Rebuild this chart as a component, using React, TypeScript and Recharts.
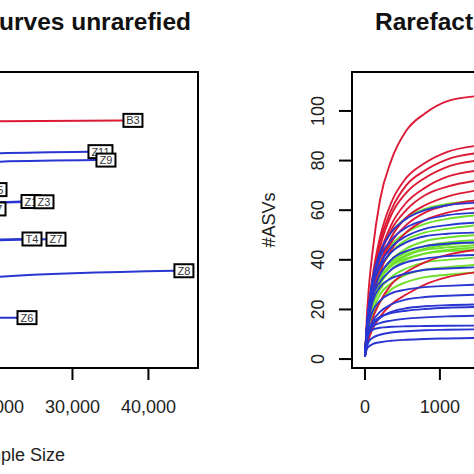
import React from "react";
import { LineChart, Line, XAxis, YAxis, ReferenceArea } from "recharts";

const FONT = "'Liberation Sans', Arial, sans-serif";
const RED = "#DC1A36";
const GREEN = "#6EE02A";
const BLUE = "#2A36D2";

// shared y range (#ASVs)
const Y_DOMAIN = [-3.6, 115.7];

// left panel: unrarefied curves (only the right part is in view)
const LEFT_X_DOMAIN = [-1789, 46526];
const LEFT_TICKS = [0, 10000, 20000, 30000, 40000];
const LEFT_STEPS = [0, 2000, 6000, 12000, 20000];
const LEFT_NAMES = ["B3", "Z11", "Z9", "Z5", "T7", "Z1", "Z3", "T4", "Z7", "Z8", "Z6"];
const LEFT_COLORS = [RED, BLUE, BLUE, BLUE, BLUE, BLUE, BLUE, BLUE, BLUE, BLUE, BLUE];
const LEFT_DEPTHS = [36711, 32105, 33158, 18816, 18684, 23289, 25000, 23421, 26579, 43421, 22763];
const LEFT_TOTALS = [96.2, 83.6, 80.2, 68.3, 60.5, 63.5, 63.4, 48.4, 48.3, 35.6, 16.7];
const LEFT_CURVES = [
  [1, 62, 84, 92, 95.8],
  [1, 55, 73, 80, 82.9],
  [1, 52, 70, 77, 79.5],
  [1, 48, 62, 66.5],
  [1, 42, 55, 59],
  [1, 45, 58, 62, 63.2],
  [1, 44, 57, 61.5, 63],
  [1, 36, 44, 47, 48.1],
  [1, 35, 43, 46.5, 47.8],
  [1, 20, 27, 31, 33.1],
  [1, 13, 15.5, 16.3, 16.6],
];

// right panel: rarefied curves
const RIGHT_X_DOMAIN = [-173, 4498];
const RIGHT_X_TICKS = [0, 1000, 2000, 3000, 4000];
const RIGHT_Y_TICKS = [0, 20, 40, 60, 80, 100];
const RIGHT_STEPS = [0, 25, 50, 100, 200, 350, 550, 800, 1100, 1500];
const GREEN_CURVES = [
  [1, 13, 21, 32, 43, 51, 57, 60.5, 62.5, 64],
  [1, 12, 19, 29, 39, 46, 51, 54.5, 56.5, 58],
  [1, 11, 18, 27, 36, 43, 48, 51, 52.5, 54],
  [1, 11, 17, 26, 34, 40, 44.5, 47.5, 49, 50],
  [1, 12, 18, 26, 34, 39, 43, 45.5, 47, 48],
  [1, 10, 16, 24, 32, 38, 42, 44.5, 46, 47],
  [1, 11, 17, 25, 32, 37.5, 41.5, 44, 45, 46],
  [1, 10, 15, 23, 30, 36, 40, 42.5, 44, 45],
  [1, 9, 14, 21, 28, 33, 36.5, 39, 40, 41],
  [1, 8, 13, 19, 26, 30.5, 34, 36, 37, 38],
  [1, 7, 11, 17, 23, 28, 31, 33, 34, 35],
  [1, 12, 18, 26, 33, 37.5, 40.5, 42.5, 43.5, 44],
];
const RED_CURVES = [
  [1, 17, 28, 43, 64, 80, 92, 99, 104, 106],
  [1, 13, 21, 33, 49, 63, 73, 79, 83.5, 86],
  [1, 12, 20, 31, 47, 60, 70, 76, 80.5, 83],
  [1, 12, 19, 30, 45, 58, 67, 73, 77.5, 80],
  [1, 11, 18, 28, 42, 54, 63, 69, 73.5, 76],
  [1, 11, 18, 28, 41, 52, 60, 66, 69.5, 72],
  [1, 10, 17, 26, 38, 49, 57, 62, 65.5, 68],
  [1, 11, 18, 27, 38, 47, 54, 59, 62, 64],
  [1, 10, 16, 24, 35, 44, 51, 56, 59, 61],
  [1, 6, 10, 16, 23, 30, 35, 39, 42, 44],
  [1, 5, 8, 12, 17, 22, 26, 30, 33, 35],
];
const BLUE_CURVES = [
  [1, 13, 21, 32, 43, 51, 56.5, 60, 62, 63],
  [1, 13, 21, 31, 41, 48, 53, 56, 58, 59],
  [1, 12, 19, 29, 38, 45, 49.5, 52.5, 54, 55],
  [1, 13, 20, 29, 37, 43, 47, 49.5, 50.5, 51],
  [1, 12, 18, 26, 34, 40, 43.5, 45.5, 46.5, 47],
  [1, 11, 17, 25, 31, 36, 39, 40.5, 41.5, 42],
  [1, 10, 16, 23, 29, 32.5, 34.5, 36, 36.5, 37],
  [1, 9, 14, 19, 23.5, 26.5, 28, 29, 29.5, 30],
  [1, 7, 11, 15, 19, 22, 24, 25, 25.5, 26],
  [1, 7, 10, 13.5, 16.5, 19, 20.5, 21.3, 21.7, 22],
  [1, 9, 12, 14.5, 17, 18.5, 19.5, 20.2, 20.7, 21],
  [1, 8, 11, 13, 14.5, 15.5, 16.3, 16.8, 17.2, 17.5],
  [1, 8, 10.5, 11.8, 12.6, 13, 13.2, 13.3, 13.4, 13.5],
  [1, 5, 7, 8.5, 9.8, 10.7, 11.2, 11.6, 11.8, 12],
  [1, 4, 5, 6, 6.8, 7.4, 7.8, 8.1, 8.3, 8.5],
];

const leftSeries = LEFT_NAMES.map((name, i) => {
  const pts = LEFT_CURVES[i].map((v, j) => ({ x: LEFT_STEPS[j], y: v }));
  pts.push({ x: LEFT_DEPTHS[i], y: LEFT_TOTALS[i] });
  return { name, color: LEFT_COLORS[i], pts };
});

const rightSeries = [
  ...GREEN_CURVES.map((c) => ({ color: GREEN, c })),
  ...RED_CURVES.map((c) => ({ color: RED, c })),
  ...BLUE_CURVES.map((c) => ({ color: BLUE, c })),
].map((s) => ({ color: s.color, pts: s.c.map((v, j) => ({ x: RIGHT_STEPS[j], y: v })) }));

const tickStyle = { fill: "#222", fontSize: 18, fontFamily: FONT };
const tickLine = { stroke: "#000", strokeWidth: 2 };

function tagLabel(name: string, last: number) {
  const w = name.length > 2 ? 24 : 19;
  return (p: any) => {
    if (p.index !== last) return <g />;
    return (
      <g>
        <rect x={p.x} y={p.y - 6.5} width={w} height={13} fill="#fff" stroke="#000" strokeWidth={2} />
        <text x={p.x + w / 2} y={p.y + 4} textAnchor="middle" fontSize={11} fontFamily={FONT} fill="#333">
          {name}
        </text>
      </g>
    );
  };
}

const RotTick = (p: any) => (
  <text
    x={p.x}
    y={p.y}
    transform={`rotate(-90, ${p.x}, ${p.y})`}
    textAnchor="middle"
    fontSize={18}
    fontFamily={FONT}
    fill="#222"
  >
    {p.payload.value}
  </text>
);

export default function App() {
  return (
    <div style={{ position: "fixed", left: 0, top: 0, width: 474, height: 474, overflow: "hidden", background: "#fff" }}>
      <div style={{ position: "absolute", left: -169, top: 0 }}>
        <LineChart width={371} height={474} margin={{ top: 72, right: 4, bottom: 46, left: 0 }}>
          <XAxis
            type="number"
            dataKey="x"
            domain={LEFT_X_DOMAIN}
            ticks={LEFT_TICKS}
            allowDataOverflow
            axisLine={false}
            tickLine={tickLine}
            tickSize={12}
            tickMargin={20}
            height={60}
            tick={tickStyle}
            tickFormatter={(v: number) => v.toLocaleString("en-US")}
            label={{
              content: ({ viewBox }: any) => (
                <text x={viewBox.x + viewBox.width / 2} y={viewBox.y + 93} textAnchor="middle" fontSize={18} fontFamily={FONT} fill="#222">
                  Sample Size
                </text>
              ),
            }}
          />
          <YAxis type="number" dataKey="y" domain={Y_DOMAIN} allowDataOverflow hide />
          {leftSeries.map((s) => (
            <Line
              key={s.name}
              data={s.pts}
              dataKey="y"
              type="monotone"
              stroke={s.color}
              strokeWidth={2}
              dot={false}
              activeDot={false}
              isAnimationActive={false}
              label={tagLabel(s.name, s.pts.length - 1)}
            />
          ))}
          <ReferenceArea
            x1={LEFT_X_DOMAIN[0]}
            x2={LEFT_X_DOMAIN[1]}
            y1={Y_DOMAIN[0]}
            y2={Y_DOMAIN[1]}
            fill="none"
            stroke="#000"
            strokeWidth={2}
            ifOverflow="visible"
          />
        </LineChart>
      </div>

      <div style={{ position: "absolute", left: 252, top: 0 }}>
        <LineChart width={454} height={474} margin={{ top: 72, right: 4, bottom: 46, left: 0 }}>
          <XAxis
            type="number"
            dataKey="x"
            domain={RIGHT_X_DOMAIN}
            ticks={RIGHT_X_TICKS}
            allowDataOverflow
            axisLine={false}
            tickLine={tickLine}
            tickSize={12}
            tickMargin={20}
            height={60}
            tick={tickStyle}
            label={{
              content: ({ viewBox }: any) => (
                <text x={viewBox.x + viewBox.width / 2} y={viewBox.y + 93} textAnchor="middle" fontSize={18} fontFamily={FONT} fill="#222">
                  Sample Size
                </text>
              ),
            }}
          />
          <YAxis
            type="number"
            dataKey="y"
            domain={Y_DOMAIN}
            ticks={RIGHT_Y_TICKS}
            allowDataOverflow
            axisLine={false}
            tickLine={tickLine}
            tickSize={13}
            tickMargin={15}
            width={100}
            tick={<RotTick />}
            label={{
              content: ({ viewBox }: any) => {
                const x = viewBox.x + 22.5;
                const y = viewBox.y + viewBox.height / 2;
                return (
                  <text x={x} y={y} transform={`rotate(-90, ${x}, ${y})`} textAnchor="middle" fontSize={18} fontFamily={FONT} fill="#222">
                    #ASVs
                  </text>
                );
              },
            }}
          />
          {rightSeries.map((s, i) => (
            <Line
              key={i}
              data={s.pts}
              dataKey="y"
              type="monotone"
              stroke={s.color}
              strokeWidth={1.9}
              dot={false}
              activeDot={false}
              isAnimationActive={false}
            />
          ))}
          <ReferenceArea
            x1={RIGHT_X_DOMAIN[0]}
            x2={RIGHT_X_DOMAIN[1]}
            y1={Y_DOMAIN[0]}
            y2={Y_DOMAIN[1]}
            fill="none"
            stroke="#000"
            strokeWidth={2}
            ifOverflow="visible"
          />
        </LineChart>
      </div>

      <svg width={474} height={474} style={{ position: "absolute", left: 0, top: 0, pointerEvents: "none" }}>
        <text x={191} y={30} textAnchor="end" fontSize={24.5} fontWeight="bold" fontFamily={FONT} fill="#111">
          Rarefaction curves unrarefied
        </text>
        <text x={375} y={30} textAnchor="start" fontSize={24.5} fontWeight="bold" fontFamily={FONT} fill="#111">
          Rarefaction curves rarefied
        </text>
      </svg>
    </div>
  );
}
